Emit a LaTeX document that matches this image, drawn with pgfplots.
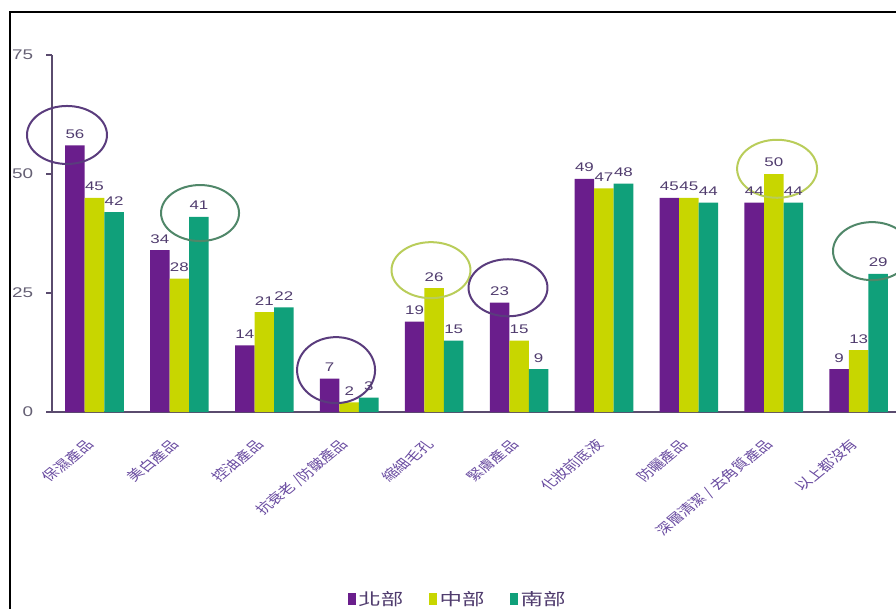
\documentclass[border=0pt]{standalone}
\usepackage{fontspec}
\setmainfont{Liberation Sans}
\newfontfamily\cjk{Noto Sans CJK TC}
\usepackage{pgfplots}
\pgfplotsset{compat=1.18}
\definecolor{cN}{RGB}{106,30,140}
\definecolor{cC}{RGB}{200,214,0}
\definecolor{cS}{RGB}{16,160,122}
\definecolor{lab}{RGB}{80,60,110}
\definecolor{xlab}{RGB}{105,75,160}
\definecolor{axc}{RGB}{90,75,110}
\definecolor{tickc}{RGB}{100,95,115}
\definecolor{eP}{RGB}{90,60,125}
\definecolor{eG}{RGB}{80,135,105}
\definecolor{eY}{RGB}{185,205,90}
\begin{document}
\begin{tikzpicture}
\begin{axis}[
  at={(0,0)}, anchor=origin,
  scale only axis, width=633pt, height=267.75pt,
  clip=false,
  xmin=-0.5, xmax=9.44, ymin=0, ymax=75,
  ybar, bar width=0.23,
  axis x line=bottom, axis y line=left,
  axis line style={-, axc, line width=1.1pt},
  ytick={0,25,50,75}, tick align=outside, major tick length=4.5pt,
  ytick style={axc, line width=1pt},
  yticklabel style={font=\fontsize{10.5}{10.5}\selectfont, text=tickc, xscale=1.35, anchor=east, inner sep=1pt, xshift=-6pt},
  /pgf/number format/assume math mode=true,
  xtick={0,...,9}, xtick style={draw=none},
  xticklabels={保濕產品, 美白產品, 控油產品, 抗衰老 /防皺產品, 縮細毛孔, 緊膚產品, 化妝前底液, 防曬產品, 深層清潔 / 去角質產品, 以上都沒有},
  xticklabel style={font=\cjk\fontsize{9.5}{9.5}\selectfont, text=xlab, inner sep=0pt, xshift=-3pt, yshift=-18pt, xscale=1.3, rotate=47, anchor=east},
  nodes near coords,
  nodes near coords style={font=\fontsize{9.4}{9.4}\selectfont, text=lab, xscale=1.35, inner sep=1pt, yshift=4pt},
  legend style={at={(0.481,-0.524)}, anchor=center, draw=none, fill=none,
    legend columns=3, font=\cjk\fontsize{12.5}{12.5}\selectfont, text=lab,
    /tikz/every even column/.append style={column sep=17pt},
    nodes={xscale=1.35, inner sep=1.5pt}},
  legend image code/.code={\fill[#1] (0pt,-4.5pt) rectangle (6pt,4.5pt);},
]
\addplot[fill=cN, draw=none, bar shift=-0.23] coordinates {(0,56) (1,34) (2,14) (3,7) (4,19) (5,23) (6,49) (7,45) (8,44) (9,9)};
\addplot[fill=cC, draw=none, bar shift=0] coordinates {(0,45) (1,28) (2,21) (3,2) (4,26) (5,15) (6,47) (7,45) (8,50) (9,13)};
\addplot[fill=cS, draw=none, bar shift=0.23] coordinates {(0,42) (1,41) (2,22) (3,3) (4,15) (5,9) (6,48) (7,44) (8,44) (9,29)};
\legend{北部, 中部, 南部}
\draw[eP, line width=1.5pt] (axis cs:-0.324,58.2) ellipse [x radius=30pt, y radius=21.75pt];
\draw[eG, line width=1.5pt] (axis cs:1.243,41.8) ellipse [x radius=29.25pt, y radius=21pt];
\draw[eP, line width=1.5pt] (axis cs:2.845,8.8) ellipse [x radius=29.25pt, y radius=24.75pt];
\draw[eY, line width=1.5pt] (axis cs:3.963,29.8) ellipse [x radius=29.6pt, y radius=21pt];
\draw[eP, line width=1.5pt] (axis cs:4.870,26.1) ellipse [x radius=29.6pt, y radius=21.4pt];
\draw[eY, line width=1.5pt] (axis cs:8.039,51.1) ellipse [x radius=30pt, y radius=21.75pt];
\draw[eG, line width=1.5pt] (axis cs:9.157,33.8) ellipse [x radius=29.25pt, y radius=21.75pt];
\coordinate (O) at (axis cs:0,0);
\end{axis}
\begin{scope}[shift={(O)}, xshift=-70.875pt, yshift=-147pt, x=0.75pt, y=0.75pt]
\pgfresetboundingbox
\path[use as bounding box] (0,0) rectangle (896,608);
\draw[black, line width=1.1pt] (10,-5) -- (10,596) -- (900,596);
\end{scope}
\end{tikzpicture}
\end{document}
